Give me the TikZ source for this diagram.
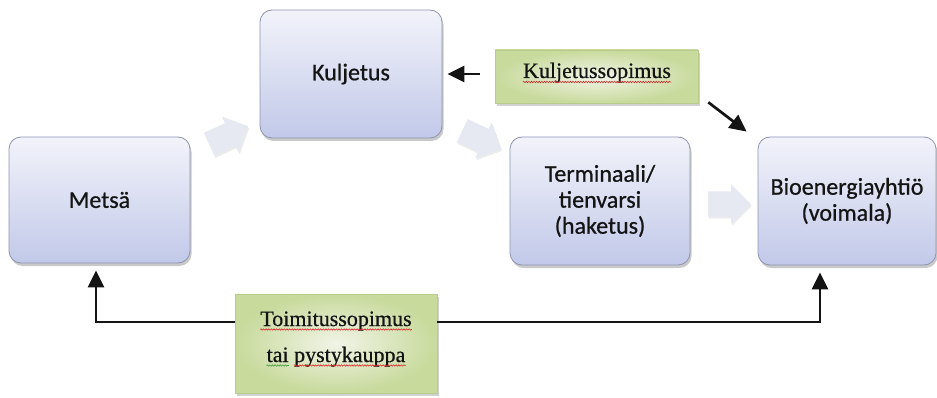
\documentclass[tikz,border=0pt]{standalone}
\usepackage{fontspec}
\setmainfont{Liberation Serif}
\newfontfamily\boxfont[FakeBold=0.7]{Carlito}
\newfontfamily\contractfont[FakeBold=0.5]{Liberation Serif}
\usetikzlibrary{arrows.meta,shapes.arrows,shadows,decorations.pathmorphing}

\definecolor{boxtop}{HTML}{F2F3FA}
\definecolor{boxbot}{HTML}{C2C9E9}
\definecolor{boxline}{HTML}{8E94B0}
\definecolor{greenout}{HTML}{C8DA9C}
\definecolor{greenin}{HTML}{F1F4E7}
\definecolor{greenline}{HTML}{B8CB8C}
\definecolor{flowfill}{HTML}{E6E8F2}
\definecolor{ink}{HTML}{141414}
\definecolor{wavered}{HTML}{D8262B}
\definecolor{wavegreen}{HTML}{3E9A3A}

\begin{document}
\begin{tikzpicture}[x=1pt,y=-1pt,
  stage/.style={rounded corners=12pt, draw=boxline, line width=0.8pt,
    top color=boxtop, bottom color=boxbot,
    drop shadow={shadow xshift=1.5pt, shadow yshift=-3pt, opacity=0.3, fill=black!70},
    font=\boxfont\fontsize{24}{26}\selectfont, text=ink, align=center, inner sep=0pt},
  contract/.style={draw=greenline, line width=0.6pt, inner color=greenin, outer color=greenout,
    drop shadow={shadow xshift=2pt, shadow yshift=-3pt, opacity=0.3, fill=black!60},
    inner sep=0pt},
  word/.style={font=\contractfont\fontsize{22}{26}\selectfont, text=ink, inner sep=0pt},
  flow/.style={single arrow, fill=flowfill, draw=none, minimum height=43pt,
    inner xsep=0pt, inner ysep=12.5pt, single arrow head extend=7pt,
    drop shadow={shadow xshift=1pt, shadow yshift=-2pt, opacity=0.15, fill=black!50}},
  link/.style={draw=ink, line width=2.7pt, -{Triangle[length=17pt,width=16pt]}},
  wave/.style={decorate, decoration={snake, amplitude=0.7pt, segment length=2.6pt},
    line width=0.6pt}
]
\useasboundingbox (0,0) rectangle (937,398);

% main stages of the supply chain
\node[stage, minimum width=181pt, minimum height=126pt] (metsa) at (99.5,200) {Metsä};
\node[stage, minimum width=182pt, minimum height=128pt] (kulj) at (351,74) {Kuljetus};
\node[stage, minimum width=180pt, minimum height=128pt] (term) at (600,201) {Terminaali/\\tienvarsi\\(haketus)};
\node[stage, minimum width=178pt, minimum height=128pt] (bio) at (847,201) {Bioenergiayhtiö\\(voimala)};

% material flow
\node[flow, rotate=25] (f1) at (223,138) {};
\node[flow, rotate=-25] (f2) at (476,137) {};
\node[flow] (f3) at (723,204) {};

% contracts
\node[contract, minimum width=203pt, minimum height=53pt] (kopim) at (596.5,76.5) {};
\node[contract, minimum width=202pt, minimum height=99pt] (topim) at (336,343.5) {};

\node[word, anchor=base] (kword) at (597,78) {Kuljetussopimus};
\node[word, anchor=base] (tword) at (336,326) {Toimitussopimus};
\node[word, anchor=base] (line2) at (336,362) {\phantom{tai pystykauppa}};
\node[word, anchor=base west] (tai) at (line2.base west) {tai};
\node[word, anchor=base east] (pysty) at (line2.base east) {pystykauppa};

% spell-check underlines
\draw[wave, wavered] ([yshift=-4pt]kword.base west) -- ([yshift=-4pt]kword.base east);
\draw[wave, wavered] ([yshift=-3.5pt]tword.base west) -- ([yshift=-3.5pt]tword.base east);
\draw[wave, wavegreen] ([yshift=-3.5pt]tai.base west) -- ([yshift=-3.5pt]tai.base east);
\draw[wave, wavered] ([yshift=-3.5pt]pysty.base west) -- ([yshift=-3.5pt]pysty.base east);

% contract links
\draw[link, shorten <=15pt, shorten >=5pt] (kopim.west |- kulj.east) -- (kulj.east);
\draw[link] ([xshift=10pt,yshift=1pt]kopim.south east) -- ([xshift=-11pt,yshift=5pt]bio.north west);
\draw[link] ([yshift=21.5pt]topim.west) -| ([xshift=-3.5pt,yshift=-7pt]metsa.south);
\draw[link] ([yshift=21.5pt]topim.east) -| ([xshift=-27pt,yshift=-7pt]bio.south);
\end{tikzpicture}
\end{document}
